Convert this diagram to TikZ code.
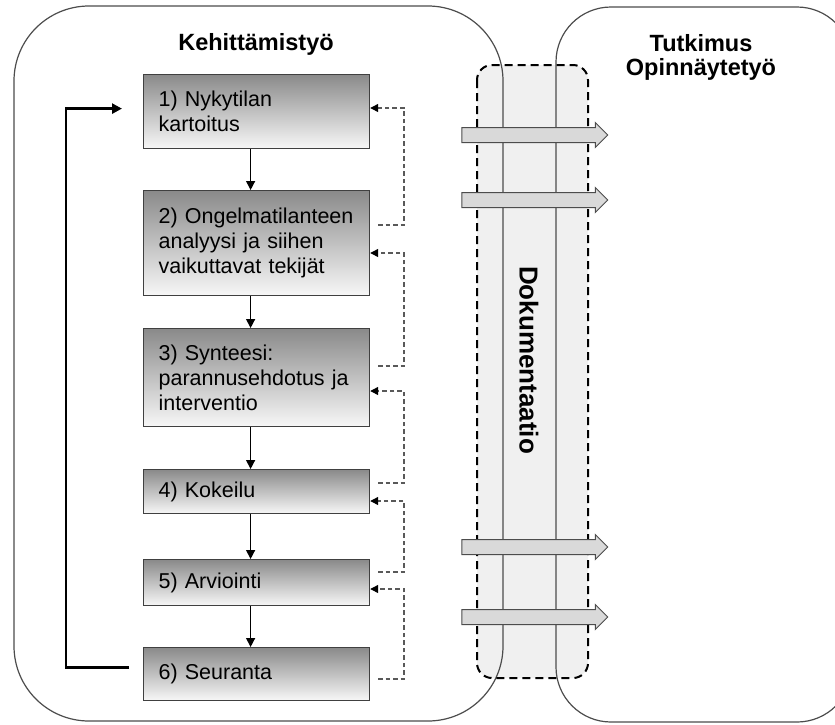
\documentclass[tikz,border=0pt]{standalone}
\usepackage{fontspec}
\setmainfont{Liberation Sans}
\usetikzlibrary{arrows.meta,positioning,shapes.arrows}

\tikzset{
	area/.style={draw=black!70, line width=1.2pt},
	phase/.style={draw=black!75, line width=1.2pt, top color=black!46, bottom color=black!3, anchor=north west, minimum width=226pt, text width=196pt, inner xsep=15pt, inner ysep=3pt, align=left, font=\fontsize{21.5}{25}\selectfont},
	flow/.style={line width=1.3pt, -{Triangle[length=9pt,width=9pt]}},
	back/.style={draw=black!65, line width=1.2pt, dash pattern=on 4.5pt off 3pt, -{Triangle[length=8pt,width=8pt,color=black]}},
	docarrow/.style={single arrow, draw=black!70, fill=black!15, line width=1pt, inner xsep=0pt, inner ysep=7pt, text height=0pt, text depth=0pt, single arrow head extend=5pt, minimum height=146pt},
	heading/.style={font=\fontsize{23.5}{24}\bfseries\selectfont}
}

\begin{document}
\begin{tikzpicture}[x=1pt,y=-1pt]
			%%%%% START %%%%%
			\useasboundingbox (0,0) rectangle (835,724);
			\clip (0,0) rectangle (835,724);
			
			% documentation band, fill only
			\fill[black!6, rounded corners=15pt] (477,65) rectangle (588,678);
			
			% the two big areas
			\draw[area, rounded corners=75pt] (14,6) rectangle (503,721);
			\draw[area, rounded corners=55pt] (556,7) rectangle (852,722);
			
			\draw[line width=2pt, dash pattern=on 8pt off 5pt, rounded corners=15pt] (477,65) rectangle (588,678);
			
			\node[heading, anchor=base] (kehitys) at (256,50) {Kehittämistyö};
			\node[heading, align=center] (tutkimus) at (701,57) {Tutkimus\\Opinnäytetyö};
			\node[heading, font=\fontsize{26}{26}\bfseries\selectfont, rotate=-90] (dok) at (529,360) {Dokumentaatio};
			
			% phases
			\node[phase, minimum height=74pt] (b1) at (143,74) {1) Nykytilan\\kartoitus};
			\node[phase, minimum height=105pt] (b2) at (143,190) {2) Ongelmatilanteen\\analyysi ja siihen\\vaikuttavat tekijät};
			\node[phase, minimum height=98pt] (b3) at (143,328) {3) Synteesi:\\parannusehdotus ja\\interventio};
			\node[phase, minimum height=44pt] (b4) at (143,469) {4) Kokeilu};
			\node[phase, minimum height=46pt] (b5) at (143,559) {5) Arviointi};
			\node[phase, minimum height=53pt] (b6) at (143,647) {6) Seuranta};
			
			\foreach \a/\b in {b1/b2,b2/b3,b3/b4,b4/b5,b5/b6}
				\draw[flow] ([xshift=-6pt]\a.south) -- ([xshift=-6pt]\b.north);
			
			% loop back to the start
			\draw[line width=2.5pt, -{Triangle[length=10pt,width=10pt]}] ([xshift=-14pt,yshift=6.5pt]b6.west) -- ++(-63,0) |- ([xshift=-21pt,yshift=3pt]b1.west);
			
			% feedback
			\foreach \a/\b/\yo/\yi in {b2/b1/225/108,b3/b2/366/253,b4/b3/483/391,b5/b4/572/501,b6/b5/679/589}
				\draw[back] (\a.east |- 0,\yo) ++(8,0) -- (404,\yo) |- (\b.east |- 0,\yi);
			
			% arrows through the documentation
			\node[docarrow] (a1) at (531,135) {};
			\node[docarrow] (a2) at (531,200) {};
			\node[docarrow] (a3) at (531,547) {};
			\node[docarrow] (a4) at (531,617) {};
			
			%%%%% END %%%%%
\end{tikzpicture}
\end{document}
